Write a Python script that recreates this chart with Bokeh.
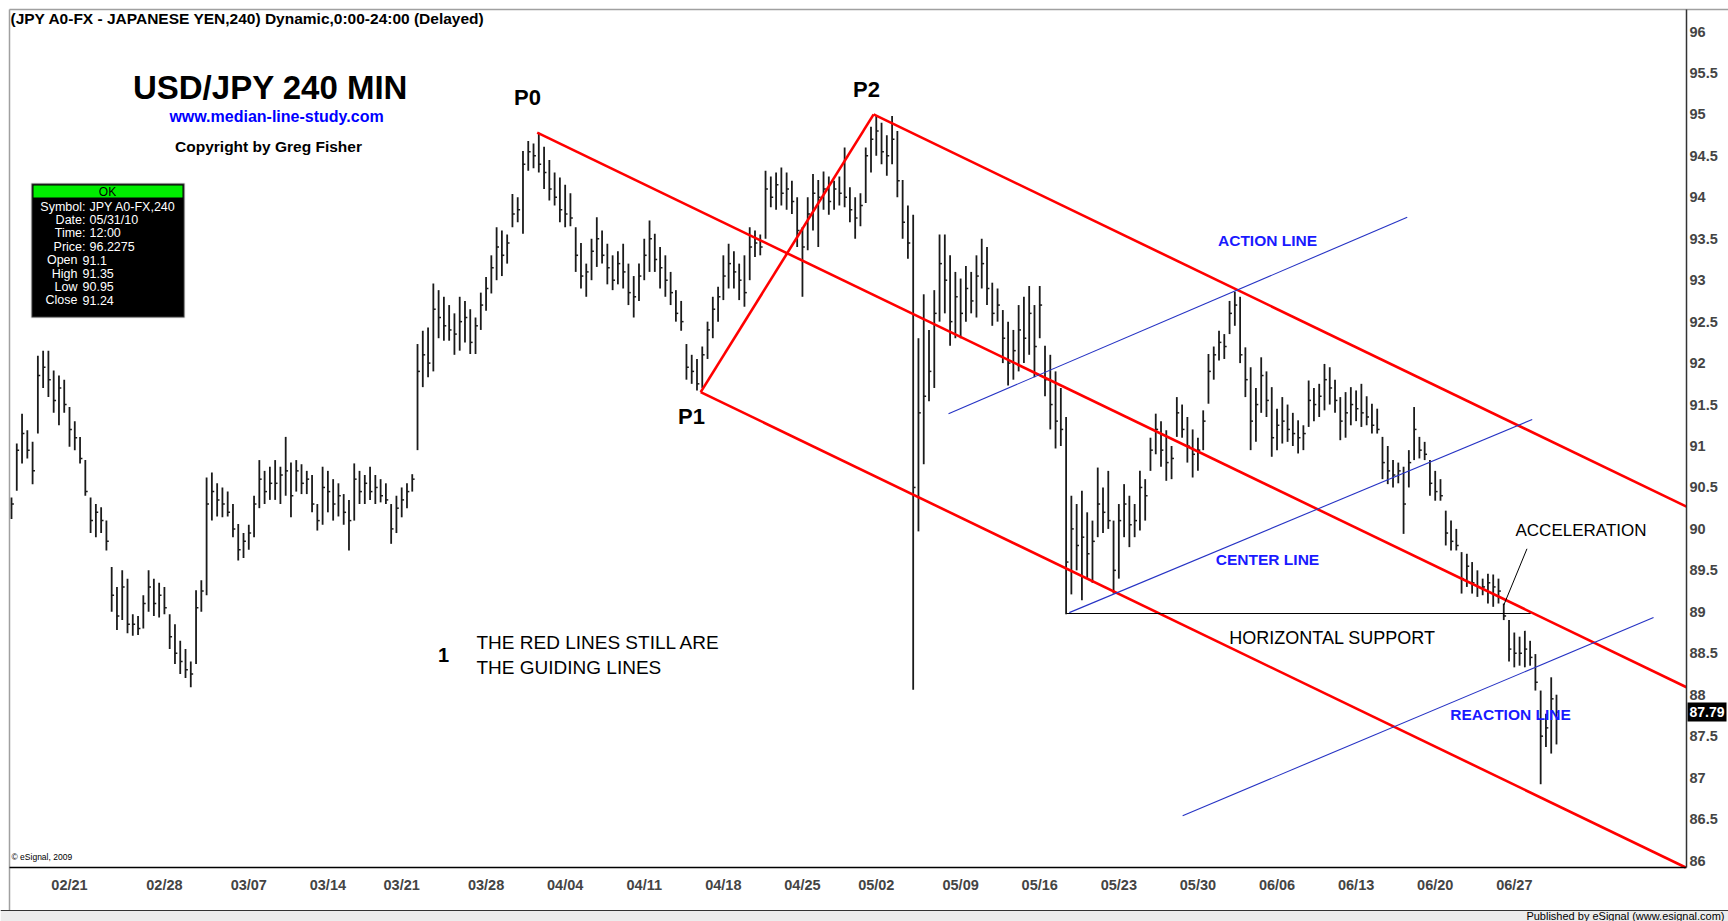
from bokeh.plotting import figure
from bokeh.models import Range1d, FixedTicker, Label, BoxAnnotation
from bokeh.embed import file_html
from bokeh.resources import INLINE

# ---------------- data (8-hour bars) ----------------
highs = [
    90.38, 91.03, 91.39, 91.19, 91.05, 92.09, 92.15, 92.15, 91.91, 91.85,
    91.80, 91.47, 91.30, 91.11, 90.83, 90.38, 90.30, 90.26, 90.10, 89.54,
    89.30, 89.50, 89.40, 88.97, 88.95, 89.20, 89.50, 89.40, 89.35, 89.30,
    88.97, 88.85, 88.65, 88.55, 88.40, 89.26, 89.38, 90.62, 90.68, 90.55,
    90.50, 90.45, 90.30, 90.06, 89.95, 90.05, 90.40, 90.83, 90.70, 90.75,
    90.83, 90.75, 91.11, 90.80, 90.83, 90.78, 90.70, 90.65, 90.30, 90.75,
    90.70, 90.60, 90.55, 90.42, 90.35, 90.79, 90.70, 90.65, 90.75, 90.65,
    90.60, 90.55, 90.30, 90.40, 90.50, 90.55, 90.66, 92.23, 92.39, 92.43,
    92.96, 92.88, 92.80, 92.70, 92.60, 92.80, 92.75, 92.65, 92.55, 92.85,
    93.04, 93.30, 93.64, 93.60, 93.55, 94.04, 94.00, 94.56, 94.68, 94.65,
    94.78, 94.61, 94.45, 94.30, 94.24, 94.15, 94.05, 93.64, 93.45, 93.20,
    93.50, 93.76, 93.60, 93.44, 93.30, 93.35, 93.44, 93.20, 93.05, 93.20,
    93.50, 93.72, 93.56, 93.40, 93.30, 93.10, 92.88, 92.75, 92.23, 92.10,
    92.05, 92.20, 92.50, 92.80, 92.92, 93.30, 93.44, 93.35, 93.20, 93.30,
    93.64, 93.60, 93.55, 94.32, 94.25, 94.30, 94.36, 94.30, 94.20, 94.00,
    93.64, 94.00, 94.28, 94.21, 94.31, 94.25, 94.20, 94.25, 94.60, 94.12,
    94.00, 94.05, 94.60, 94.85, 94.98, 94.90, 94.75, 94.98, 94.80, 94.21,
    93.90, 93.79, 92.30, 92.83, 92.40, 92.88, 93.55, 93.55, 93.30, 93.10,
    93.02, 93.17, 93.10, 93.30, 93.50, 93.40, 92.97, 92.90, 92.64, 92.50,
    92.40, 92.70, 92.80, 92.93, 92.70, 92.93, 92.21, 92.10, 91.90, 91.70,
    91.35, 90.40, 90.30, 90.46, 90.20, 90.10, 90.74, 90.50, 90.70, 90.10,
    90.30, 90.54, 90.40, 90.30, 90.70, 90.60, 91.10, 91.39, 91.30, 91.19,
    91.00, 91.59, 91.50, 91.35, 91.20, 91.10, 91.43, 92.11, 92.20, 92.39,
    92.35, 92.75, 92.86, 92.80, 92.19, 91.95, 91.70, 92.07, 91.90, 91.71,
    91.45, 91.59, 91.50, 91.40, 91.31, 91.25, 91.79, 91.70, 91.75, 91.99,
    91.95, 91.80, 91.59, 91.65, 91.71, 91.67, 91.75, 91.60, 91.51, 91.45,
    91.11, 91.00, 90.83, 90.80, 90.75, 90.95, 91.47, 91.11, 91.05, 90.83,
    90.70, 90.60, 90.22, 90.10, 90.00, 89.72, 89.70, 89.60, 89.50, 89.40,
    89.46, 89.45, 89.40, 89.10, 88.90, 88.75, 88.70, 88.77, 88.65, 88.49,
    88.05, 87.77, 88.21, 88.00,
]
lows = [
    90.12, 90.46, 90.79, 90.85, 90.54, 91.15, 91.70, 91.59, 91.40, 91.25,
    91.40, 90.99, 90.95, 90.79, 90.40, 89.95, 89.90, 89.95, 89.74, 89.00,
    88.78, 88.90, 88.74, 88.71, 88.72, 88.80, 89.00, 88.95, 88.93, 88.97,
    88.55, 88.37, 88.25, 88.20, 88.09, 88.37, 89.00, 89.20, 90.10, 90.15,
    90.14, 90.15, 89.90, 89.62, 89.65, 89.75, 89.90, 90.25, 90.30, 90.35,
    90.35, 90.30, 90.40, 90.14, 90.45, 90.42, 90.42, 90.20, 89.98, 90.05,
    90.20, 90.10, 90.15, 90.05, 89.74, 90.10, 90.30, 90.30, 90.35, 90.30,
    90.32, 90.30, 89.82, 89.95, 90.14, 90.25, 90.45, 90.95, 91.71, 91.83,
    91.90, 92.30, 92.27, 92.27, 92.10, 92.15, 92.25, 92.11, 92.11, 92.40,
    92.63, 92.84, 93.00, 93.05, 93.20, 93.64, 93.70, 93.56, 94.32, 94.35,
    94.30, 94.10, 93.96, 93.90, 93.70, 93.64, 93.65, 93.10, 92.90, 92.80,
    93.00, 93.16, 93.20, 92.95, 92.88, 92.95, 92.90, 92.70, 92.55, 92.75,
    93.00, 93.10, 93.10, 92.90, 92.80, 92.70, 92.50, 92.39, 91.80, 91.75,
    91.67, 91.70, 92.05, 92.30, 92.50, 92.76, 92.90, 92.90, 92.76, 92.68,
    93.00, 93.28, 93.30, 93.50, 93.88, 93.85, 93.90, 93.85, 93.80, 93.40,
    92.80, 93.36, 93.60, 93.40, 93.85, 93.79, 93.85, 93.90, 93.88, 93.70,
    93.50, 93.65, 93.93, 94.30, 94.50, 94.40, 94.26, 94.40, 94.00, 93.50,
    93.26, 88.06, 89.97, 90.78, 91.54, 91.70, 92.50, 92.60, 92.21, 92.30,
    92.30, 92.50, 92.60, 92.55, 92.90, 92.70, 92.45, 92.50, 92.00, 91.73,
    91.80, 91.90, 92.00, 92.10, 91.83, 92.30, 91.60, 91.20, 90.97, 91.00,
    88.97, 89.21, 89.50, 89.14, 89.40, 89.35, 89.90, 89.95, 90.00, 89.22,
    89.40, 89.90, 89.78, 89.90, 89.98, 90.10, 90.70, 90.90, 90.75, 90.58,
    90.60, 91.11, 91.10, 90.80, 90.62, 90.70, 90.95, 91.51, 91.80, 92.03,
    92.05, 92.35, 92.45, 92.00, 91.59, 90.95, 91.05, 91.40, 91.35, 90.87,
    90.95, 91.03, 91.05, 91.00, 90.91, 90.95, 91.23, 91.30, 91.35, 91.43,
    91.50, 91.40, 91.07, 91.10, 91.25, 91.30, 91.23, 91.25, 91.15, 91.15,
    90.60, 90.54, 90.50, 90.55, 89.94, 90.50, 90.83, 90.85, 90.83, 90.40,
    90.34, 90.34, 89.80, 89.74, 89.74, 89.22, 89.30, 89.22, 89.18, 89.20,
    89.10, 89.06, 89.10, 88.90, 88.40, 88.33, 88.35, 88.33, 88.35, 88.05,
    86.92, 87.37, 87.29, 87.40,
]
closes = [
    90.30, 90.95, 91.15, 90.95, 90.70, 91.85, 91.95, 91.80, 91.55, 91.70,
    91.50, 91.20, 91.10, 90.85, 90.45, 90.10, 90.20, 90.10, 89.85, 89.20,
    88.95, 89.30, 88.85, 88.85, 88.80, 89.10, 89.30, 89.10, 89.20, 89.05,
    88.70, 88.50, 88.40, 88.30, 88.25, 89.05, 89.25, 90.30, 90.45, 90.35,
    90.30, 90.20, 90.00, 89.75, 89.85, 89.95, 90.30, 90.60, 90.45, 90.55,
    90.55, 90.65, 90.70, 90.40, 90.70, 90.55, 90.60, 90.30, 90.10, 90.50,
    90.45, 90.30, 90.40, 90.20, 90.10, 90.60, 90.45, 90.55, 90.45, 90.50,
    90.40, 90.35, 90.00, 90.25, 90.35, 90.45, 90.60, 91.90, 92.10, 92.00,
    92.65, 92.55, 92.45, 92.40, 92.35, 92.50, 92.55, 92.25, 92.45, 92.70,
    92.90, 93.15, 93.40, 93.30, 93.45, 93.80, 93.85, 94.40, 94.55, 94.50,
    94.40, 94.30, 94.10, 94.00, 93.85, 93.80, 93.75, 93.30, 93.05, 93.10,
    93.35, 93.50, 93.30, 93.15, 93.00, 93.20, 93.10, 92.85, 92.80, 93.05,
    93.30, 93.50, 93.25, 93.15, 93.00, 92.85, 92.60, 92.50, 91.95, 91.90,
    91.75, 92.10, 92.40, 92.65, 92.80, 93.05, 93.20, 93.10, 93.00, 92.85,
    93.40, 93.45, 93.40, 94.10, 94.00, 94.15, 94.05, 94.10, 93.95, 93.60,
    93.40, 93.80, 94.05, 94.00, 94.10, 93.95, 94.10, 94.05, 94.00, 93.85,
    93.75, 93.90, 94.50, 94.70, 94.80, 94.55, 94.50, 94.70, 94.20, 93.70,
    93.45, 90.50, 91.40, 91.60, 91.90, 92.60, 93.20, 93.00, 92.50, 92.80,
    92.60, 92.90, 92.75, 93.05, 93.20, 92.90, 92.60, 92.70, 92.30, 92.00,
    92.15, 92.40, 92.30, 92.60, 92.20, 92.70, 91.80, 91.50, 91.30, 91.20,
    89.60, 90.00, 89.80, 89.90, 89.70, 89.85, 90.30, 90.20, 90.10, 89.50,
    90.10, 90.30, 90.05, 90.10, 90.50, 90.40, 90.95, 91.20, 90.95, 90.80,
    90.85, 91.40, 91.20, 91.00, 90.90, 90.95, 91.30, 91.90, 92.10, 92.25,
    92.20, 92.60, 92.70, 92.10, 91.80, 91.30, 91.50, 91.85, 91.55, 91.10,
    91.25, 91.30, 91.20, 91.15, 91.10, 91.15, 91.55, 91.50, 91.60, 91.80,
    91.70, 91.55, 91.30, 91.40, 91.50, 91.45, 91.40, 91.35, 91.25, 91.20,
    90.80, 90.70, 90.65, 90.70, 90.30, 90.80, 91.20, 90.95, 90.90, 90.55,
    90.45, 90.40, 89.95, 89.85, 89.80, 89.40, 89.55, 89.35, 89.30, 89.30,
    89.35, 89.30, 89.25, 88.95, 88.55, 88.50, 88.50, 88.55, 88.45, 88.15,
    87.50, 87.60, 87.95, 87.79,
]
bar_index = list(range(len(closes)))

week_labels = ["02/21", "02/28", "03/07", "03/14", "03/21", "03/28", "04/04",
               "04/11", "04/18", "04/25", "05/02", "05/09", "05/16", "05/23",
               "05/30", "06/06", "06/13", "06/20", "06/27"]
week_bar_index = [11, 29, 45, 60, 74, 90, 105, 120, 135, 150, 164, 180, 195,
                  210, 225, 240, 255, 270, 285]

price_ticks = [86.0, 86.5, 87.0, 87.5, 88.0, 88.5, 89.0, 89.5, 90.0, 90.5, 91.0,
               91.5, 92.0, 92.5, 93.0, 93.5, 94.0, 94.5, 95.0, 95.5, 96.0]
price_tick_labels = ["86", "86.5", "87", "87.5", "88", "88.5", "89", "89.5", "90",
                     "90.5", "91", "91.5", "92", "92.5", "93", "93.5", "94", "94.5",
                     "95", "95.5", "96"]

# pitchfork pivots (bar index, price)
pivot_names = ["P0", "P1", "P2"]
pivot_bar = [99.7, 130.7, 163.5]
pivot_price = [94.78, 91.65, 95.00]

# blue parallel lines, support line, pointer (bar index, price)
action_bar, action_price = [177.7, 264.7], [91.39, 93.76]
center_bar, center_price = [200.6, 288.4], [88.99, 91.32]
reaction_bar, reaction_price = [222.1, 311.4], [86.54, 88.93]
support_bar, support_price = [200.1, 288.1], [88.98, 88.98]
accel_bar, accel_price = [287.4, 283.0], [89.76, 89.08]
last_price = 87.79

info_keys = ["Symbol:", "Date:", "Time:", "Price:", "Open", "High", "Low", "Close"]
info_vals = ["JPY A0-FX,240", "05/31/10", "12:00", "96.2275", "91.1", "91.35", "90.95", "91.24"]

# ---------------- pixel -> data helpers (layout only) ----------------
W, H = 1728, 921
X0_PX, PITCH, Y96_PX, PX_PER_YEN = 11.0, 5.273, 31.0, 82.9
FRAME_L, FRAME_T, AXIS_X, AXIS_Y = 9, 9, 1686, 867


def px_x(px):
    return (px - X0_PX) / PITCH


def px_y(py):
    return 96.0 - (py - Y96_PX) / PX_PER_YEN


p = figure(width=W, height=H, output_backend="svg", toolbar_location=None,
           x_range=Range1d(px_x(0), px_x(W)), y_range=Range1d(px_y(H), px_y(0)),
           y_axis_location="right", min_border=0, min_border_left=0, min_border_right=0,
           min_border_top=0, min_border_bottom=0)
p.background_fill_color = "white"
p.border_fill_color = "white"
p.outline_line_color = None
p.xgrid.visible = False
p.ygrid.visible = False

x_axis_data = px_x(AXIS_X)
y_axis_data = px_y(AXIS_Y)

xa = p.xaxis[0]
xa.fixed_location = y_axis_data
xa.bounds = (px_x(FRAME_L), x_axis_data)
xa.ticker = FixedTicker(ticks=week_bar_index)
xa.major_label_overrides = {i: s for i, s in zip(week_bar_index, week_labels)}
xa.major_tick_in = 0
xa.major_tick_out = 0
xa.minor_tick_in = 0
xa.minor_tick_out = 0
xa.axis_line_color = "black"
xa.axis_line_width = 1.5
xa.major_label_text_font = "Liberation Sans"
xa.major_label_text_font_style = "bold"
xa.major_label_text_font_size = "14.5px"
xa.major_label_standoff = 9

ya = p.yaxis[0]
ya.fixed_location = x_axis_data
ya.bounds = (y_axis_data, px_y(FRAME_T))
ya.ticker = FixedTicker(ticks=price_ticks)
ya.major_label_overrides = {t: s for t, s in zip(price_ticks, price_tick_labels)}
ya.major_tick_in = 0
ya.major_tick_out = 0
ya.minor_tick_in = 0
ya.minor_tick_out = 0
ya.axis_line_color = "#333333"
ya.axis_line_width = 1.5
ya.major_label_text_font = "Liberation Sans"
ya.major_label_text_font_style = "bold"
ya.major_label_text_font_size = "14.5px"
ya.major_label_standoff = 3

# frame borders (top and left, grey) and bottom status strip
grey = "#a0a0a0"
p.line([px_x(FRAME_L), px_x(W)], [px_y(FRAME_T), px_y(FRAME_T)], line_color=grey, line_width=1.5)
p.line([px_x(FRAME_L), px_x(FRAME_L)], [px_y(FRAME_T), px_y(910)], line_color=grey, line_width=1.5)
p.quad(left=px_x(0), right=px_x(W), top=px_y(910), bottom=px_y(H), fill_color="#ececec",
       line_color=None)
p.line([px_x(0), px_x(W)], [px_y(910), px_y(910)], line_color="#333333", line_width=1.2)

# ---------------- price bars ----------------
tick_end = [i + 0.45 for i in bar_index]
p.segment(x0=bar_index, y0=lows, x1=bar_index, y1=highs, line_color="#1a1a1a", line_width=1.8)
p.segment(x0=bar_index, y0=closes, x1=tick_end, y1=closes, line_color="#1a1a1a", line_width=1.5)

# ---------------- Andrews pitchfork (red) ----------------
p0x, p1x, p2x = pivot_bar
p0y, p1y, p2y = pivot_price
midx, midy = (p1x + p2x) / 2, (p1y + p2y) / 2
slope = (midy - p0y) / (midx - p0x)
red = "#ff0000"


def fork_line(x0, y0):
    x1 = x_axis_data
    y1 = y0 + slope * (x1 - x0)
    if y1 < y_axis_data:  # stop at the bottom of the price pane
        x1 = x0 + (y_axis_data - y0) / slope
        y1 = y_axis_data
    p.line([x0, x1], [y0, y1], line_color=red, line_width=2.6)


p.line([p1x, p2x], [p1y, p2y], line_color=red, line_width=2.6)
fork_line(p0x, p0y)
fork_line(p2x, p2y)
fork_line(p1x, p1y)

# ---------------- blue lines, support, pointer ----------------
blue = "#2633c4"
p.line(action_bar, action_price, line_color=blue, line_width=1.1)
p.line(center_bar, center_price, line_color=blue, line_width=1.1)
p.line(reaction_bar, reaction_price, line_color=blue, line_width=1.1)
p.line(support_bar, support_price, line_color="black", line_width=1.1)
p.line(accel_bar, accel_price, line_color="black", line_width=1.0)


def add_text(px, py, text, size, color="black", bold=False, align="center",
             font="Liberation Sans"):
    lab = Label(x=px_x(px), y=px_y(py), text=text, text_font=font,
                text_font_size=size, text_color=color,
                text_font_style="bold" if bold else "normal",
                text_align=align, text_baseline="middle")
    p.add_layout(lab)
    return lab


# header and titles
add_text(10, 18, "(JPY A0-FX - JAPANESE YEN,240) Dynamic,0:00-24:00 (Delayed)", "15.5px",
         bold=True, align="left")
add_text(270, 87, "USD/JPY 240 MIN", "33px", bold=True)
add_text(276, 116, "www.median-line-study.com", "16px", color="#0000ff", bold=True)
add_text(268, 146, "Copyright by Greg Fisher", "15.5px", bold=True)

# pivot labels
add_text(527, 97, pivot_names[0], "22px", bold=True)
add_text(691, 416, pivot_names[1], "22px", bold=True)
add_text(866, 89, pivot_names[2], "22px", bold=True)

# annotations
add_text(443, 654, "1", "20px", bold=True)
add_text(476, 642, "THE RED LINES STILL ARE", "19px", align="left")
add_text(476, 667, "THE GUIDING LINES", "19px", align="left")
add_text(1267, 240, "ACTION LINE", "15.5px", color="#1a1aff", bold=True)
add_text(1267, 559, "CENTER LINE", "15.5px", color="#1a1aff", bold=True)
add_text(1510, 714, "REACTION LINE", "15.5px", color="#1a1aff", bold=True)
add_text(1332, 637, "HORIZONTAL SUPPORT", "18px")
add_text(1515, 530, "ACCELERATION", "17px", align="left")
add_text(11, 856, "\u00a9 eSignal, 2009", "8.5px", align="left")

# info box
p.add_layout(BoxAnnotation(left=px_x(31), right=px_x(184), top=px_y(183), bottom=px_y(317),
                           fill_color="black", fill_alpha=1.0, line_color="#b8b8b8", line_width=2))
p.add_layout(BoxAnnotation(left=px_x(33), right=px_x(182), top=px_y(185), bottom=px_y(197),
                           fill_color="#00ee00", fill_alpha=1.0, line_color="#00ee00", line_width=0))
add_text(107, 191, "OK", "12px")
for k, (key, val) in enumerate(zip(info_keys, info_vals)):
    yy = 206 + k * 13.4
    if key.endswith(":"):
        add_text(85, yy, key, "12.5px", color="white", align="right")
        add_text(89, yy, val, "12.5px", color="white", align="left")
    else:
        add_text(77, yy, key, "12.5px", color="white", align="right")
        add_text(82, yy, val, "12.5px", color="white", align="left")

# last price marker on the price axis
marker_half = 9.5 / PX_PER_YEN
p.quad(left=px_x(1687), right=px_x(1726), top=last_price + marker_half,
       bottom=last_price - marker_half, fill_color="black", line_color=None)
p.add_layout(Label(x=px_x(1689), y=last_price, text="%.2f" % last_price, text_font="Liberation Sans",
                   text_font_size="14px", text_font_style="bold", text_color="white",
                   text_align="left", text_baseline="middle"))

add_text(1724, 915, "Published by eSignal (www.esignal.com)", "11px", align="right")

open("out.html", "w").write(file_html(p, INLINE))
